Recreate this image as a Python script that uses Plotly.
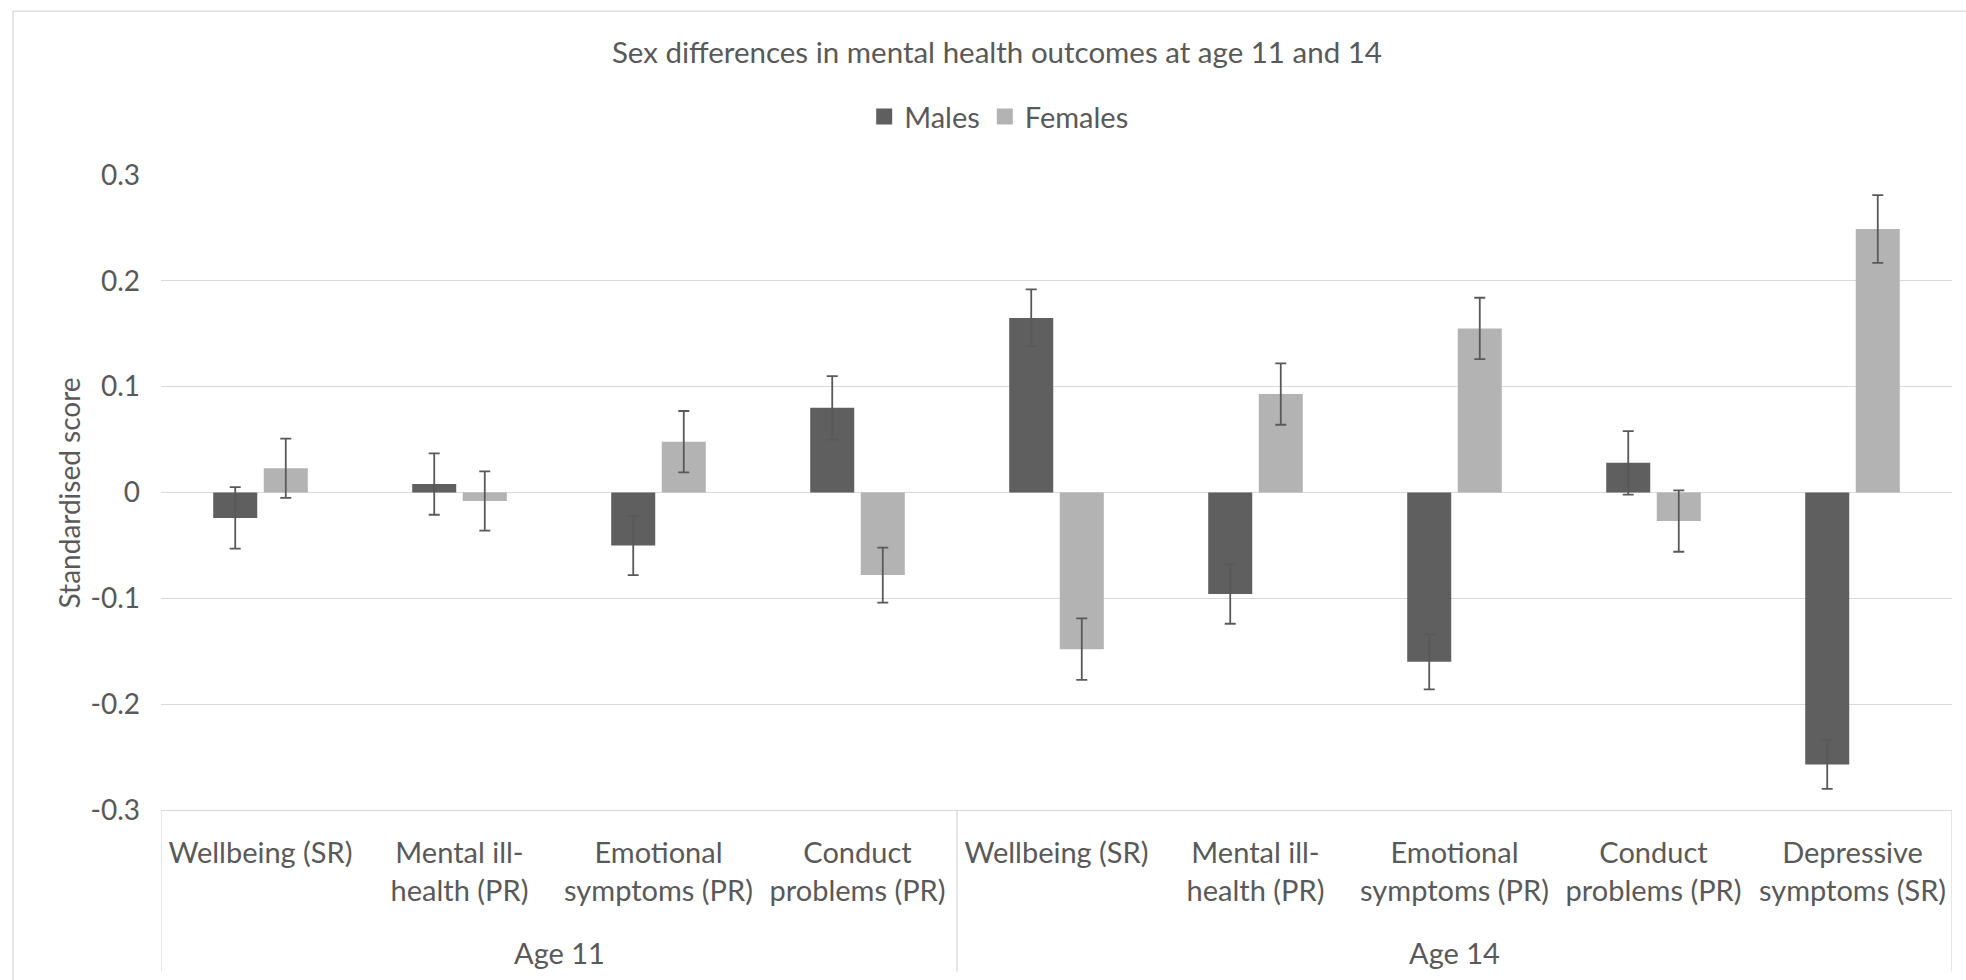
import plotly.graph_objects as go

# Outcome labels (two-line where the axis wraps them), grouped by age
outcomes = [
    "Wellbeing (SR)", "Mental ill-<br>health (PR)", "Emotional<br>symptoms (PR)", "Conduct<br>problems (PR)",
    "Wellbeing (SR)", "Mental ill-<br>health (PR)", "Emotional<br>symptoms (PR)", "Conduct<br>problems (PR)",
    "Depressive<br>symptoms (SR)",
]
age_groups = ["Age 11", "Age 14"]
group_sizes = [4, 5]

# Standardised scores and error-bar half-widths
males = [-0.024, 0.008, -0.050, 0.080, 0.165, -0.096, -0.160, 0.028, -0.257]
females = [0.023, -0.008, 0.048, -0.078, -0.148, 0.093, 0.155, -0.027, 0.249]
males_err = [0.029, 0.029, 0.028, 0.030, 0.027, 0.028, 0.026, 0.030, 0.023]
females_err = [0.028, 0.028, 0.029, 0.026, 0.029, 0.029, 0.029, 0.029, 0.032]

y_ticks = [0.3, 0.2, 0.1, 0, -0.1, -0.2, -0.3]
y_tick_text = ["0.3", "0.2", "0.1", "0", "-0.1", "-0.2", "-0.3"]

FONT = "Lato"
TEXT = "#595959"
GRID = "#D9D9D9"
MALE_COLOR = "#5F5F5F"
FEMALE_COLOR = "#B3B3B3"

positions = list(range(len(outcomes)))

fig = go.Figure()
for name, values, errors, color in [
    ("Males", males, males_err, MALE_COLOR),
    ("Females", females, females_err, FEMALE_COLOR),
]:
    fig.add_trace(go.Bar(
        name=name, x=positions, y=values, showlegend=False, legendgroup=name,
        marker=dict(color=color, line=dict(width=0)),
        error_y=dict(type="data", array=errors, color="#595959", thickness=1.8, width=5.5),
    ))
    # legend key with a larger square swatch
    fig.add_trace(go.Scatter(
        name=name, x=[None], y=[None], mode="markers", legendgroup=name,
        marker=dict(symbol="square", size=17, color=color, line=dict(width=0)),
        hoverinfo="skip",
    ))

# Group labels and divider lines of the two-level category axis
annotations = []
shapes = []
start = 0
for label, size in zip(age_groups, group_sizes):
    annotations.append(dict(
        text=label, xref="x", yref="paper", x=start + (size - 1) / 2, y=-0.2244,
        xanchor="center", yanchor="middle", showarrow=False,
        font=dict(family=FONT, size=29, color=TEXT),
    ))
    shapes.append(dict(type="line", xref="x", yref="paper", x0=start - 0.5, x1=start - 0.5,
                       y0=0, y1=-0.2543, line=dict(color=GRID, width=1.3)))
    start += size
shapes.append(dict(type="line", xref="x", yref="paper", x0=start - 0.5, x1=start - 0.5,
                   y0=0, y1=-0.2543, line=dict(color=GRID, width=1.3)))

# Chart-area frame (left and top edges)
shapes.append(dict(type="line", xref="paper", yref="paper", x0=-0.0826, x1=-0.0826,
                   y0=1.2581, y1=-0.4, line=dict(color=GRID, width=1.3)))
shapes.append(dict(type="line", xref="paper", yref="paper", x0=-0.0826, x1=1.05,
                   y0=1.2581, y1=1.2581, line=dict(color=GRID, width=1.3)))

annotations.append(dict(
    text="Standardised score", xref="paper", yref="paper", x=-0.0514, y=0.5,
    xanchor="center", yanchor="middle", textangle=-90, showarrow=False,
    font=dict(family=FONT, size=28, color=TEXT),
))

fig.update_layout(
    width=1966, height=980,
    margin=dict(l=161, r=14, t=175, b=170),
    paper_bgcolor="white", plot_bgcolor="white",
    barmode="group", bargap=0.492, bargroupgap=0.129,
    font=dict(family=FONT, color=TEXT),
    title=dict(
        text="Sex differences in mental health outcomes at age 11 and 14",
        x=0.5071, y=0.9459, xanchor="center", yanchor="middle",
        font=dict(family=FONT, size=29.5, color=TEXT),
    ),
    legend=dict(
        orientation="h", x=0.468, y=1.0918, xanchor="center", yanchor="middle",
        font=dict(family=FONT, size=29, color=TEXT), bgcolor="rgba(0,0,0,0)",
        itemsizing="trace",
    ),
    xaxis=dict(
        range=[-0.5, len(outcomes) - 0.5], tickvals=positions, ticktext=outcomes,
        showgrid=False, zeroline=False, showline=True, linecolor=GRID, linewidth=1.3,
        ticks="", ticklabelstandoff=17, tickfont=dict(family=FONT, size=29, color=TEXT),
    ),
    yaxis=dict(
        range=[-0.3, 0.3], tickvals=y_ticks, ticktext=y_tick_text,
        showgrid=True, gridcolor=GRID, gridwidth=1.3,
        zeroline=True, zerolinecolor=GRID, zerolinewidth=1.3,
        showline=False, ticks="", ticklabelstandoff=20,
        tickfont=dict(family=FONT, size=28, color=TEXT),
    ),
    annotations=annotations,
    shapes=shapes,
    showlegend=True,
)

fig.write_html("out.html")
